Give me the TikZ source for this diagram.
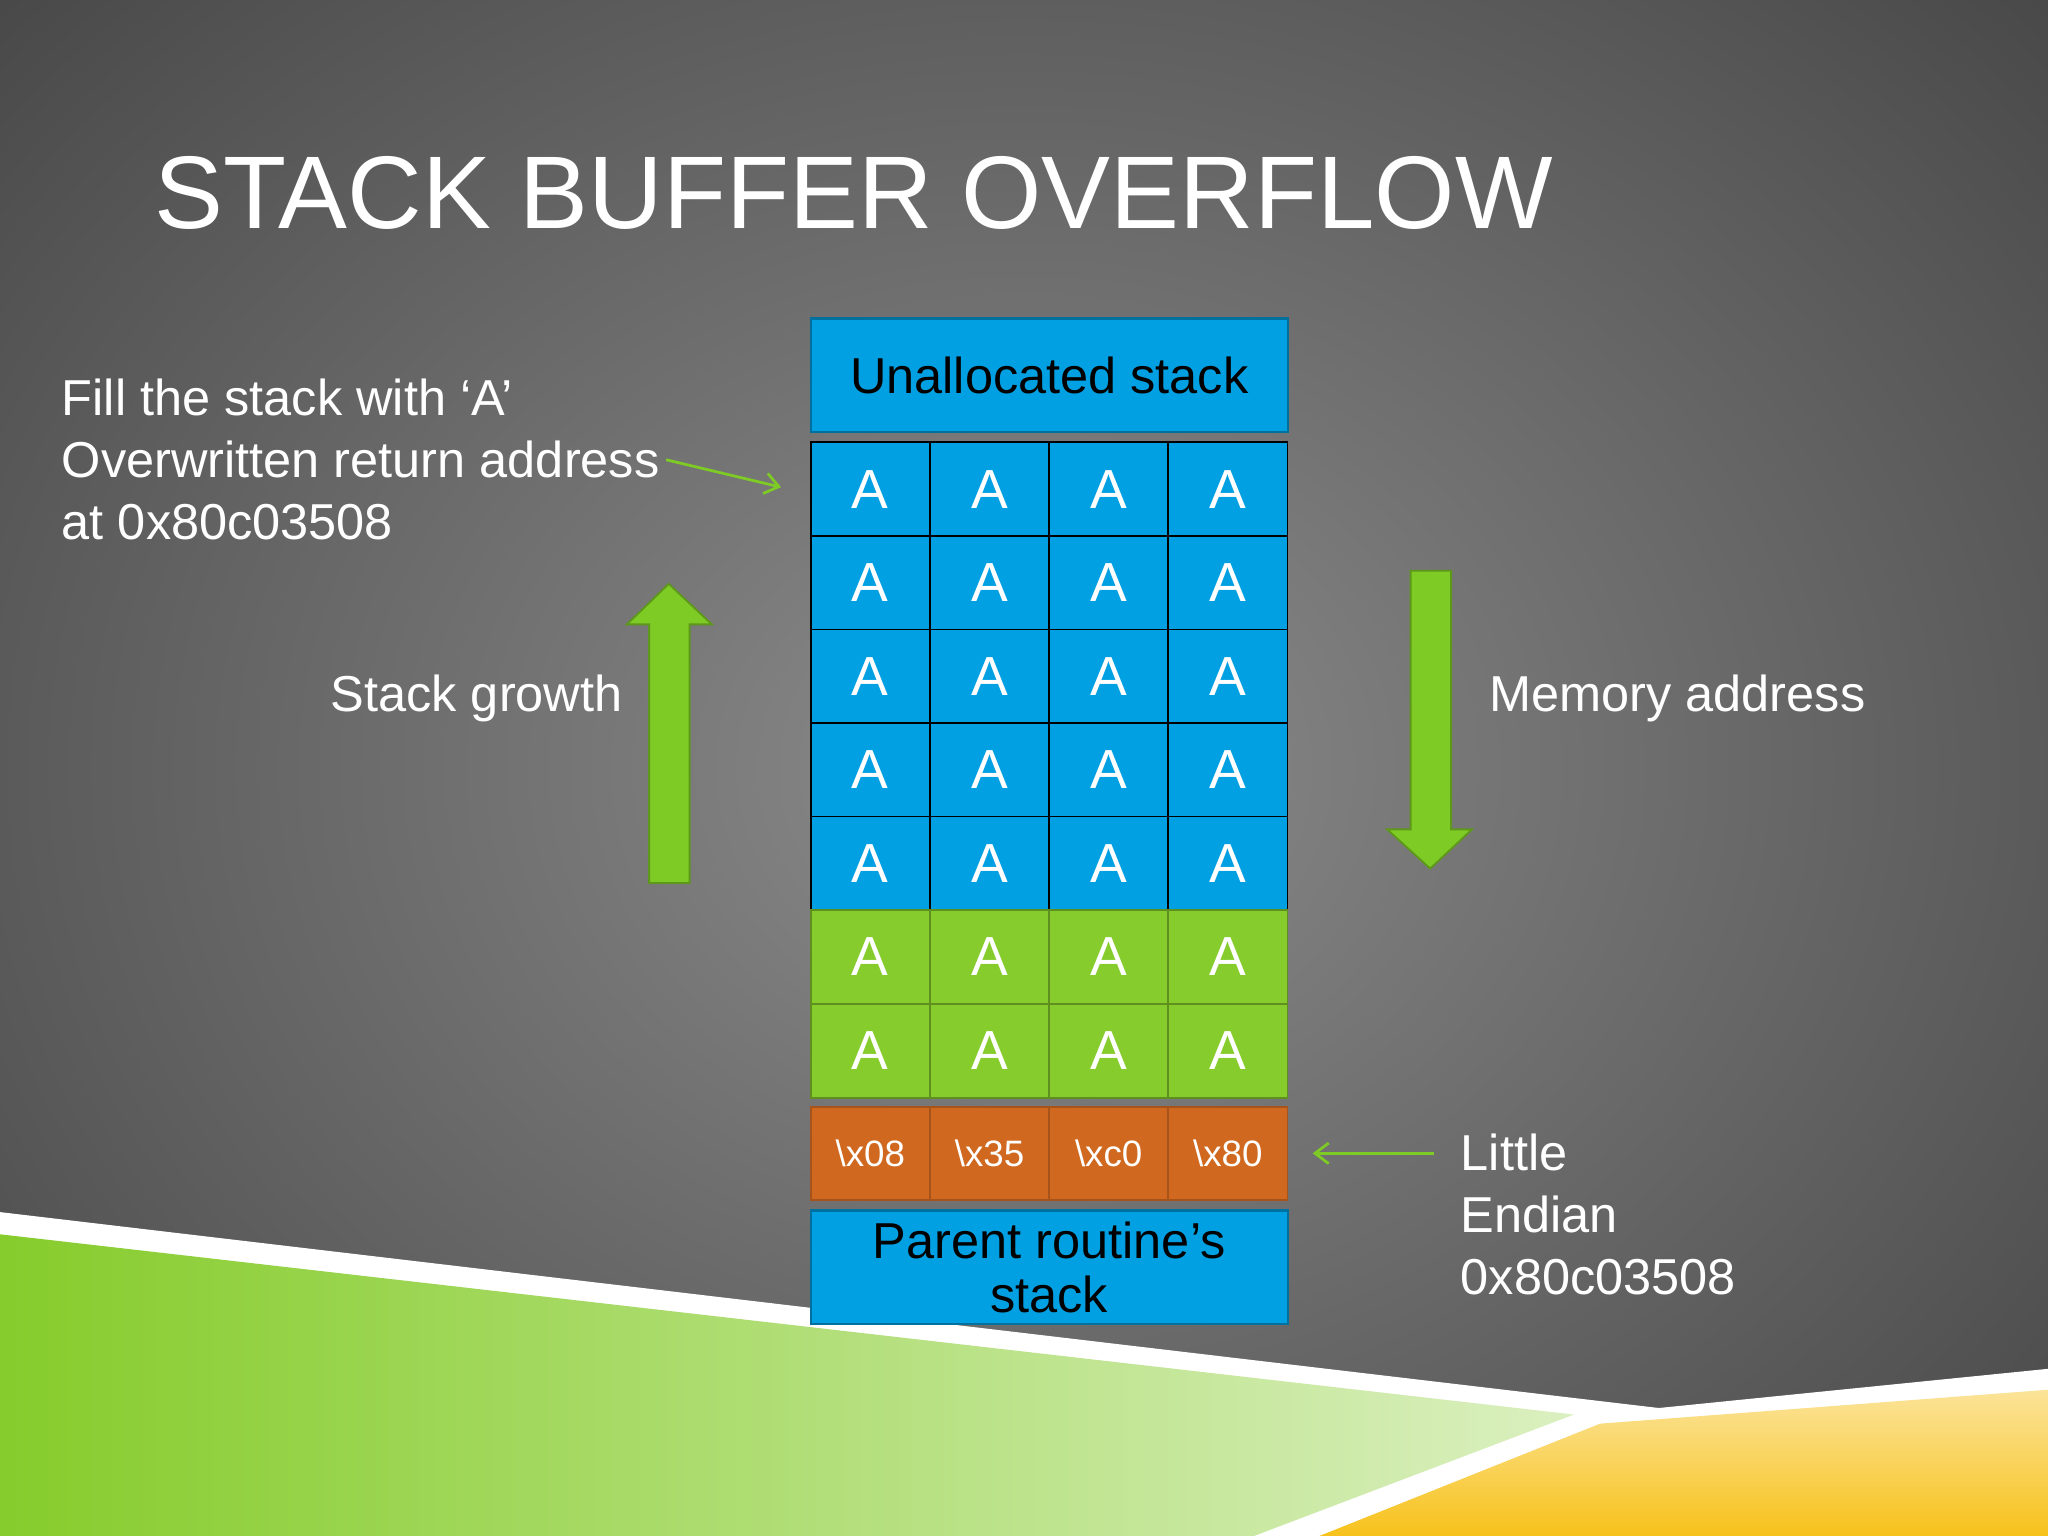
\documentclass[tikz,border=0pt]{standalone}
\usepackage{fontspec}
\setmainfont{Liberation Sans}
\usetikzlibrary{arrows.meta}
\definecolor{cblue}{HTML}{00A0E2}
\definecolor{cgreen}{HTML}{86CC2C}
\definecolor{corange}{HTML}{D0691F}
\definecolor{agreen}{HTML}{7DCB24}
\definecolor{cyel}{HTML}{F7C21C}
\begin{document}
\begin{tikzpicture}[x=0.02cm,y=-0.02cm,
  cell/.style={draw=black,line width=0.8pt,minimum width=91.25*0.02cm,minimum height=72*0.02cm,inner sep=0pt,text=white,font=\fontsize{24}{28}\selectfont,anchor=north west},
  gcell/.style={cell,draw=cgreen!70!black,fill=cgreen},
  ocell/.style={cell,draw=corange!80!black,fill=corange,font=\fontsize{16}{20}\selectfont,minimum height=71*0.02cm},
  bigbox/.style={draw=cblue!70!black,line width=1pt,fill=cblue,minimum width=365*0.02cm,minimum height=87*0.02cm,inner sep=0pt,anchor=north west,font=\fontsize{22}{24}\selectfont,text=black,align=center},
  lbl/.style={text=white,font=\fontsize{22}{27}\selectfont,inner sep=0pt,align=left},
  fat/.style={draw=agreen!75!black,fill=agreen,line width=0.8pt}]
\useasboundingbox (0,0) rectangle (1568,1176);
\shade[inner color=gray!85!white!95!black,outer color=black!72] (-300,-300) rectangle (1868,1476);
\fill[white] (0,928) -- (1270,1078) -- (1568,1048) -- (1568,1176) -- (0,1176) -- cycle;
\shade[left color=cgreen,right color=cgreen!30!white] (0,945) -- (1205,1083) -- (960,1176) -- (0,1176) -- cycle;
\shade[top color=cyel!45!white,bottom color=cyel] (1568,1064) -- (1225,1090) -- (1010,1176) -- (1568,1176) -- cycle;
\node[anchor=base west,text=white,font=\fontsize{45}{50}\selectfont,inner sep=0pt] (title) at (118,175) {STACK BUFFER OVERFLOW};
\node[bigbox] (unalloc) at (620,243) {Unallocated stack};
\foreach \r in {0,...,4}{\foreach \c in {0,...,3}{
  \node[cell,fill=cblue] (a\r\c) at ({620+91.25*\c},{338+71.6*\r}) {A};}}
\foreach \r in {0,1}{\foreach \c in {0,...,3}{
  \node[gcell] (g\r\c) at ({620+91.25*\c},{696+72*\r}) {A};}}
\node[ocell] (o0) at (620,847) {\textbackslash x08};
\node[ocell] (o1) at (711.25,847) {\textbackslash x35};
\node[ocell] (o2) at (802.5,847) {\textbackslash xc0};
\node[ocell] (o3) at (893.75,847) {\textbackslash x80};
\node[bigbox,font=\fontsize{22}{23.5}\selectfont] (parent) at (620,926) {Parent routine’s\\stack};
\node[lbl,anchor=north west] (fill) at (47,290) {Fill the stack with ‘A’\\Overwritten return address\\at 0x80c03508};
\node[lbl,anchor=east] (growth) at (477,535) {Stack growth};
\node[lbl,anchor=west] (mem) at (1140,535) {Memory address};
\node[lbl,anchor=north west] (endian) at (1118,868) {Little\\Endian\\0x80c03508};
\coordinate (s1) at (510,352); \coordinate (s2) at (598,373);
\draw[agreen,line width=1.2pt,-{Straight Barb[length=6pt,width=9pt]}] (s1) -- (s2);
\coordinate (e1) at (1098,883); \coordinate (e2) at (1005,883);
\draw[agreen,line width=1.2pt,-{Straight Barb[length=6pt,width=9pt]}] (e1) -- (e2);
\draw[fat] (497,676) -- (497,478) -- (480,478) -- (512,447) -- (545,478) -- (528,478) -- (528,676) -- cycle;
\draw[fat] (1080,437) -- (1080,635) -- (1062,635) -- (1095,665) -- (1127,635) -- (1111,635) -- (1111,437) -- cycle;
\end{tikzpicture}
\end{document}
